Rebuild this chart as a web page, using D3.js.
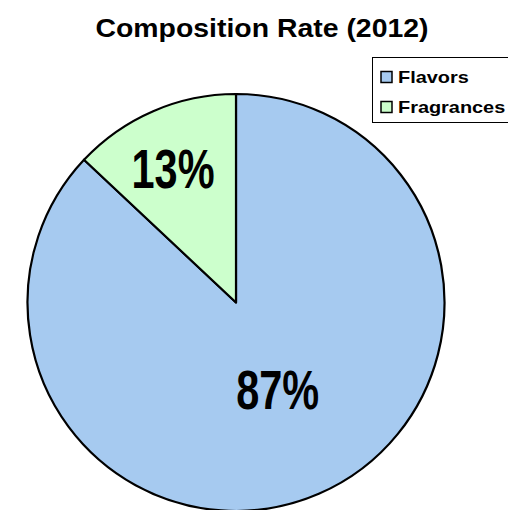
<!DOCTYPE html>
<html>
<head>
<meta charset="utf-8">
<script src="https://cdn.jsdelivr.net/npm/d3@7"></script>
<style>
  html, body { margin: 0; padding: 0; background: #fff; }
  svg { display: block; }
  text { font-family: "Liberation Sans", Arial, sans-serif; font-weight: bold; fill: #000; }
</style>
</head>
<body>
<svg id="chart" width="508" height="510"></svg>
<script>
// Composition of sales, 2012
const categories = ["Flavors", "Fragrances"];
const shares = [87, 13];
const labels = ["87%", "13%"];
const colors = ["#a6caf0", "#ccffcc"];
const title = "Composition Rate (2012)";

const svg = d3.select("#chart");
const cx = 236, cy = 302.5, radius = 208.5;

svg.append("text")
  .attr("x", 262).attr("y", 37)
  .attr("text-anchor", "middle")
  .attr("font-size", 25)
  .attr("textLength", 333).attr("lengthAdjust", "spacingAndGlyphs")
  .text(title);

const data = categories.map((c, i) => ({ name: c, value: shares[i], label: labels[i], color: colors[i] }));

// Flavors runs clockwise from 12 o'clock; Fragrances fills the rest
const pie = d3.pie().value(d => d.value).sort(null);
const arc = d3.arc().innerRadius(0).outerRadius(radius);

const g = svg.append("g").attr("transform", `translate(${cx},${cy})`);
const arcs = pie(data);

g.selectAll("path.slice")
  .data(arcs)
  .join("path")
  .attr("class", "slice")
  .attr("d", arc)
  .attr("fill", d => d.data.color)
  .attr("stroke", "#000")
  .attr("stroke-width", 2.2)
  .attr("stroke-linejoin", "round");

// Small slices keep their label further out toward the rim
const labelPos = d => {
  const f = d.data.value < 30 ? 0.70 : 0.455;
  const [x, y] = d3.arc().innerRadius(radius * f).outerRadius(radius * f).centroid(d);
  const shift = d.data.value < 30 ? -5 : 4;
  return [x + shift, y];
};

g.selectAll("text.pct")
  .data(arcs)
  .join("text")
  .attr("class", "pct")
  .attr("x", d => labelPos(d)[0])
  .attr("y", d => labelPos(d)[1])
  .attr("text-anchor", "middle")
  .attr("dy", "0.36em")
  .attr("font-size", 55)
  .attr("textLength", 83).attr("lengthAdjust", "spacingAndGlyphs")
  .text(d => d.data.label);

// Legend
const lg = svg.append("g").attr("transform", "translate(372.5,57.5)");
lg.append("rect")
  .attr("width", 140).attr("height", 65)
  .attr("fill", "#fff").attr("stroke", "#000").attr("stroke-width", 1);

const rows = lg.selectAll("g.row").data(data).join("g")
  .attr("class", "row")
  .attr("transform", (d, i) => `translate(0,${19.5 + i * 30})`);
rows.append("rect")
  .attr("x", 8.5).attr("y", -5.5)
  .attr("width", 11).attr("height", 11)
  .attr("fill", d => d.color).attr("stroke", "#000").attr("stroke-width", 1.5);
rows.append("text")
  .attr("transform", "translate(25.5,0) scale(1.17,1)")
  .attr("dy", "0.36em")
  .attr("font-size", 17)
  .text(d => d.name);
</script>
</body>
</html>
